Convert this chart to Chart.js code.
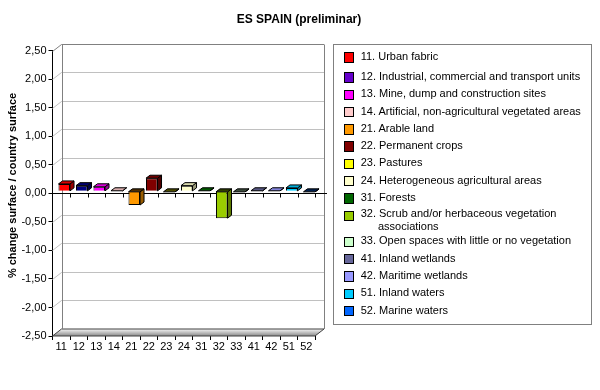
<!DOCTYPE html>
<html>
<head>
<meta charset="utf-8">
<title>ES SPAIN (preliminar)</title>
<script src="https://cdn.jsdelivr.net/npm/chart.js@4.4.1/dist/chart.umd.min.js"></script>
<style>
  html, body { margin: 0; padding: 0; background: #fff; }
  #wrap { position: relative; width: 600px; height: 390px; }
  #chart { position: absolute; left: 0; top: 0; }
  #legend {
    position: absolute; left: 333px; top: 44px; width: 259px; height: 281px;
    box-sizing: border-box; border: 1px solid #808080; padding-top: 3px;
    font: 11px 'Liberation Sans', Arial, sans-serif; color: #000;
  }
  .item { position: relative; height: 17.3px; line-height: 17.3px; padding-left: 26.7px; white-space: nowrap; }
  .item:first-child { margin-bottom: 2.7px; }
  .item.wrap { height: 26px; line-height: 13px; white-space: normal; }
  .item.wrap .tx { padding-top: 1px; }
  .sw { position: absolute; left: 10px; top: 4.3px; width: 10.4px; height: 10.4px; box-sizing: border-box; border: 1px solid #000; }
  .tx { display: block; width: 226px; padding-left: 17.3px; text-indent: -17.3px; }
</style>
</head>
<body>
<div id="wrap">
  <canvas id="chart" width="600" height="390"></canvas>
  <div id="legend"></div>
</div>
<script>
// data
const categories = ['11', '12', '13', '14', '21', '22', '23', '24', '31', '32', '33', '41', '42', '51', '52'];
const classNames = [
  '11. Urban fabric',
  '12. Industrial, commercial and transport units',
  '13. Mine, dump and construction sites',
  '14. Artificial, non-agricultural vegetated areas',
  '21. Arable land',
  '22. Permanent crops',
  '23. Pastures',
  '24. Heterogeneous agricultural areas',
  '31. Forests',
  '32. Scrub and/or herbaceous vegetation associations',
  '33. Open spaces with little or no vegetation',
  '41. Inland wetlands',
  '42. Maritime wetlands',
  '51. Inland waters',
  '52. Marine waters'
];
const changePct = [0.13, 0.10, 0.08, 0.01, -0.24, 0.23, -0.01, 0.10, 0.01, -0.47, -0.01, 0.01, 0.01, 0.06, -0.01];
const yMin = -2.5, yMax = 2.5, yStep = 0.5;

const legendColors = ['#FF0000', '#6600CC', '#FF00FF', '#FFCCCC', '#FF9900', '#800000', '#FFFF00', '#FFFFCC',
                      '#006600', '#99CC00', '#CCFFCC', '#666699', '#9999FF', '#00CCFF', '#0066FF'];
const barColors = legendColors.map((c, i) => i === 1 ? '#000080' : c);

const FONT = "'Liberation Sans', Arial, sans-serif";
const WALL_DX = 9, WALL_DY = 7;     // depth of the 3d walls
const BAR_DX = 4, BAR_DY = 3;       // depth of each bar
const SHIFT_X = 3, SHIFT_Y = -2;    // bars sit a bit inside the box

function shade(hex, f) {
  const n = parseInt(hex.slice(1), 16);
  const r = Math.round(((n >> 16) & 255) * f), g = Math.round(((n >> 8) & 255) * f), b = Math.round((n & 255) * f);
  return `rgb(${r},${g},${b})`;
}

function poly(ctx, pts, fill) {
  ctx.beginPath();
  pts.forEach((p, i) => i ? ctx.lineTo(p[0], p[1]) : ctx.moveTo(p[0], p[1]));
  ctx.closePath();
  ctx.fillStyle = fill;
  ctx.fill();
  ctx.stroke();
}

// back wall, left wall, floor and zero line
const walls = {
  id: 'walls',
  beforeDatasetsDraw(chart) {
    const { ctx, chartArea: a, scales: { x, y } } = chart;
    ctx.save();
    ctx.lineWidth = 1;

    // floor
    const grad = ctx.createLinearGradient(0, a.bottom - WALL_DY, 0, a.bottom);
    grad.addColorStop(0, '#f6f6f6');
    grad.addColorStop(1, '#8a8a8a');
    ctx.strokeStyle = '#404040';
    poly(ctx, [[a.left, a.bottom], [a.left + WALL_DX, a.bottom - WALL_DY],
               [a.right + WALL_DX, a.bottom - WALL_DY], [a.right, a.bottom]], grad);

    // grid lines on side and back wall
    y.ticks.forEach(t => {
      if (t.value === 0 || t.value === yMin) return;
      const py = Math.round(y.getPixelForValue(t.value)) + 0.5;
      ctx.strokeStyle = t.value === yMax ? '#808080' : '#c0c0c0';
      ctx.beginPath();
      ctx.moveTo(a.left, py);
      ctx.lineTo(a.left + WALL_DX, py - WALL_DY);
      ctx.lineTo(a.right + WALL_DX, py - WALL_DY);
      ctx.stroke();
    });

    // back wall edges
    const top = Math.round(y.getPixelForValue(yMax)) + 0.5 - WALL_DY;
    const bot = a.bottom - WALL_DY;
    ctx.strokeStyle = '#808080';
    ctx.beginPath();
    ctx.moveTo(Math.round(a.left + WALL_DX) + 0.5, top);
    ctx.lineTo(Math.round(a.left + WALL_DX) + 0.5, bot);
    ctx.moveTo(Math.round(a.right + WALL_DX) + 0.5, top);
    ctx.lineTo(Math.round(a.right + WALL_DX) + 0.5, bot);
    ctx.stroke();

    // zero line with category ticks
    const y0 = Math.round(y.getPixelForValue(0)) + 0.5;
    ctx.strokeStyle = '#000';
    ctx.beginPath();
    ctx.moveTo(a.left, y0);
    ctx.lineTo(a.right + 12, y0);
    const step = (a.right - a.left) / categories.length;
    for (let i = 1; i <= categories.length; i++) {
      const px = Math.round(x.getPixelForValue(i - 1) + step / 2) + 0.5;
      ctx.moveTo(px, y0);
      ctx.lineTo(px, y0 + 4);
    }
    ctx.stroke();
    ctx.restore();
  }
};

// side and top faces of the bars
const bars3d = {
  id: 'bars3d',
  beforeDatasetDraw(chart) {
    chart.ctx.save();
    chart.ctx.translate(SHIFT_X, SHIFT_Y);
  },
  afterDatasetDraw(chart, args) {
    const ctx = chart.ctx;
    ctx.lineWidth = 1;
    ctx.strokeStyle = '#000';
    args.meta.data.forEach((bar, i) => {
      const { x, y, base, width } = bar.getProps(['x', 'y', 'base', 'width'], true);
      const l = x - width / 2, r = x + width / 2;
      const top = Math.min(y, base), bottom = Math.max(y, base);
      const c = barColors[i];
      poly(ctx, [[r, top], [r + BAR_DX, top - BAR_DY], [r + BAR_DX, bottom - BAR_DY], [r, bottom]], shade(c, 0.6));
      poly(ctx, [[l, top], [l + BAR_DX, top - BAR_DY], [r + BAR_DX, top - BAR_DY], [r, top]],
           changePct[i] >= 0 ? shade(c, 0.85) : shade(c, 0.3));
    });
    ctx.restore();
  }
};

// chart title and y axis title
const texts = {
  id: 'texts',
  afterDraw(chart) {
    const ctx = chart.ctx;
    ctx.save();
    ctx.fillStyle = '#000';
    ctx.textAlign = 'center';
    ctx.textBaseline = 'middle';
    ctx.font = 'bold 12px ' + FONT;
    ctx.fillText('ES SPAIN (preliminar)', 299, 20);
    ctx.translate(12.7, 185.5);
    ctx.rotate(-Math.PI / 2);
    ctx.font = 'bold 11px ' + FONT;
    ctx.fillText('% change surface / country surface', 0, 0);
    ctx.restore();
  }
};

Chart.defaults.font.family = FONT;
Chart.defaults.color = '#000';

new Chart(document.getElementById('chart'), {
  type: 'bar',
  data: {
    labels: categories,
    datasets: [{
      data: changePct,
      backgroundColor: barColors,
      borderColor: '#000',
      borderWidth: 1,
      barPercentage: 0.66,
      categoryPercentage: 1
    }]
  },
  options: {
    responsive: false,
    animation: false,
    layout: { padding: { left: 0, right: 285, top: 50.7, bottom: 0 } },
    plugins: { legend: { display: false }, tooltip: { enabled: false }, title: { display: false } },
    scales: {
      x: {
        grid: { offset: true, drawOnChartArea: false, tickLength: 4, color: '#000' },
        border: { display: false },
        ticks: { font: { size: 11 }, padding: 0, maxRotation: 0, autoSkip: false },
        afterFit: s => { s.height = 54; }
      },
      y: {
        min: yMin, max: yMax,
        ticks: { stepSize: yStep, font: { size: 11 }, padding: 2,
                 callback: v => v.toFixed(2).replace('.', ',') },
        grid: { drawOnChartArea: false, tickLength: 4, color: '#000' },
        border: { display: true, color: '#000' },
        afterFit: s => { s.width = 52.5; }
      }
    }
  },
  plugins: [walls, bars3d, texts]
});

// legend
const legendEl = document.getElementById('legend');
legendEl.innerHTML = classNames.map((t, i) =>
  `<div class="item"><span class="sw" style="background:${legendColors[i]}"></span><span class="tx">${t}</span></div>`
).join('');
legendEl.querySelectorAll('.item').forEach(el => {
  if (el.querySelector('.tx').textContent.length > 48) el.classList.add('wrap');
});
</script>
</body>
</html>
